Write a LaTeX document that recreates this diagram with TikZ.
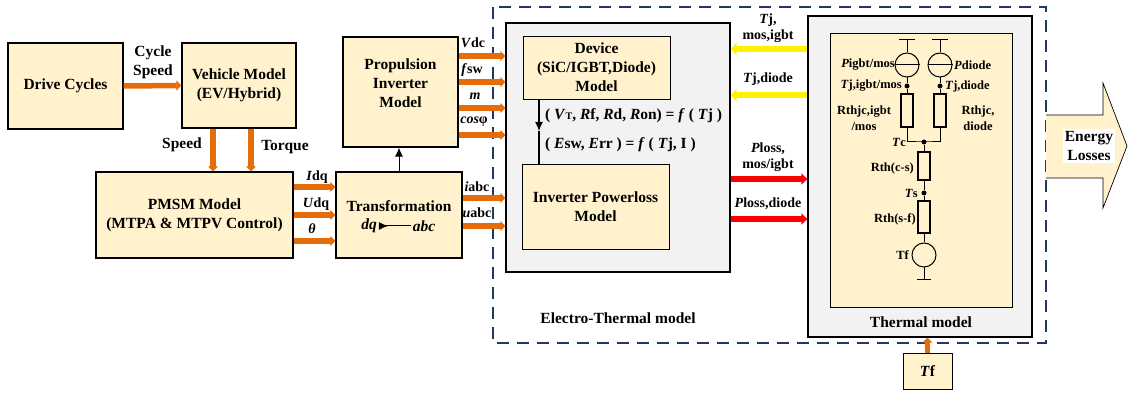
\documentclass[tikz,border=0pt]{standalone}
\usepackage{fontspec}
\setmainfont{Liberation Serif}
\usetikzlibrary{arrows.meta}
\definecolor{boxfill}{HTML}{FFF2CC}
\definecolor{grayfill}{HTML}{F2F2F2}
\definecolor{orangeline}{HTML}{E46C0A}
\definecolor{navyline}{HTML}{1F3864}
\tikzset{
  every node/.style={font=\fontsize{15.5}{19}\selectfont\bfseries, inner sep=0pt, align=center},
  block/.style={draw, line width=1.3pt, fill=boxfill},
  subblock/.style={draw, line width=0.8pt, fill=boxfill},
  lbl/.style={font=\fontsize{14}{16}\selectfont\bfseries},
  clbl/.style={font=\fontsize{12.5}{16}\selectfont\bfseries},
  orarrow/.style={line width=5.5pt, draw=orangeline, -{Triangle[length=5pt,width=10pt]}},
  yelarrow/.style={line width=6pt, draw=yellow, -{Triangle[length=6pt,width=12pt]}},
  redarrow/.style={line width=6pt, draw=red, -{Triangle[length=6pt,width=11pt]}},
  src/.style={draw, circle, line width=1pt, minimum size=24pt},
  res/.style={draw, rectangle, line width=1.8pt, minimum width=12pt, minimum height=33pt},
  dot/.style={circle, fill, minimum size=5pt}
}
\begin{document}
\begin{tikzpicture}[x=1pt, y=-1pt]
      \useasboundingbox (0,0) rectangle (1128,395);
      \draw[navyline, line width=1.6pt, dash pattern=on 12pt off 8pt] (493,7) rectangle (1046,343); % electro-thermal frame
      %
      \node[block, minimum width=115pt, minimum height=86pt] (drive) at (65.5,86) {Drive Cycles};
      \node[block, minimum width=114pt, minimum height=85pt] (vehicle) at (239,85.5) {Vehicle Model\\(EV/Hybrid)};
      \node[block, minimum width=197pt, minimum height=86pt] (pmsm) at (194.5,215) {PMSM Model\\(MTPA \& MTPV Control)};
      \node[block, minimum width=126pt, minimum height=86pt] (trans) at (399,215) {};
      \node[block, minimum width=115pt, minimum height=110pt] (prop) at (400.5,92) {};
      \node (proptxt) at (400.5,83) {Propulsion\\Inverter\\Model};
      \node (transtxt) at (399,206) {Transformation};
      \node[inner sep=2pt] (dq) at (369,226) {\textit{dq}};
      \node[inner sep=2pt] (abc) at (424,226) {\textit{abc}};
      \draw[line width=1pt, {Latex[reversed,length=9pt,width=8pt]}-] (dq.east) -- (abc.west);
      %
      \node[draw, line width=1.3pt, fill=grayfill, minimum width=224pt, minimum height=249pt] (et) at (618,147.5) {}; % electrical side
      \node[subblock, minimum width=147pt, minimum height=63pt] (device) at (596.5,67.5) {Device\\(SiC/IGBT,Diode)\\Model};
      \node[subblock, minimum width=147pt, minimum height=85pt] (loss) at (595.5,206.5) {Inverter Powerloss\\Model};
      \node[anchor=west] (frel) at (545,116) {( \textit{V}{\fontsize{10}{10}\selectfont T}, \textit{R}f, \textit{R}d, \textit{R}on) = \textit{f} ( \textit{T}j )};
      \node[anchor=west] (erel) at (545,145) {( \textit{E}sw, \textit{E}rr ) = \textit{f} ( \textit{T}j, I )};
      \coordinate (fmid) at (539,131);
      \draw[line width=1.2pt, -{Latex[length=9pt,width=8pt]}] (device.south -| fmid) -- (fmid);
      \draw[line width=1.2pt] (fmid) -- (loss.north -| fmid);
      \node (etname) at (618,318) {Electro-Thermal model};
      %
      \node[draw, line width=1.3pt, fill=grayfill, minimum width=224pt, minimum height=321pt] (thermal) at (920,176.5) {}; % thermal side
      \node[subblock, minimum width=182pt, minimum height=274pt] (tinner) at (921,170) {};
      \node (thname) at (921,322) {Thermal model};
      \node[block, line width=0.9pt, minimum width=49pt, minimum height=36pt] (tfbox) at (927.5,371) {\textit{T}f};
      %
      \draw[line width=0.7pt, fill=boxfill] (1046,115) -- (1103,115) -- (1103,83) -- (1127,146) -- (1103,208) -- (1103,178) -- (1046,178);
      \node[fill=white, inner sep=2pt] (eloss) at (1089,146) {Energy\\Losses};
      %
      \draw[orarrow] (drive.east) -- (vehicle.west); % mechanical side
      \node (cyclbl) at (153,62) {Cycle\\Speed};
      \coordinate (spd) at (213,150);
      \coordinate (trq) at (251,150);
      \draw[orarrow] (vehicle.south -| spd) -- (pmsm.north -| spd);
      \draw[orarrow] (vehicle.south -| trq) -- (pmsm.north -| trq);
      \node (spdlbl) at (182,145) {Speed};
      \node (trqlbl) at (285,147) {Torque};
      %
      \draw[orarrow] (pmsm.east |- 0,187) -- (trans.west |- 0,187); % pmsm outputs
      \draw[orarrow] (pmsm.east |- 0,215) -- (trans.west |- 0,215);
      \draw[orarrow] (pmsm.east |- 0,241) -- (trans.west |- 0,241);
      \node[lbl] (idqlbl) at (317,177) {\textit{I}dq};
      \node[lbl] (udqlbl) at (316,204) {\textit{U}dq};
      \node[lbl] (thlbl) at (312,229) {\textit{θ}};
      \draw[line width=0.8pt, -{Latex[length=9pt,width=8pt]}] (trans.north) -- (trans.north |- prop.south);
      %
      \draw[orarrow] (prop.east |- 0,56) -- (et.west |- 0,56); % inverter parameters
      \draw[orarrow] (prop.east |- 0,82) -- (et.west |- 0,82);
      \draw[orarrow] (prop.east |- 0,108) -- (et.west |- 0,108);
      \draw[orarrow] (prop.east |- 0,135) -- (et.west |- 0,135);
      \node[lbl] (vdclbl) at (473,43) {\textit{V}dc};
      \node[lbl] (fswlbl) at (472,70) {\textit{f}sw};
      \node[lbl] (mlbl) at (475,96) {\textit{m}};
      \node[lbl] (coslbl) at (474,122) {\textit{cos}φ};
      \draw[orarrow] (trans.east |- 0,198) -- (et.west |- 0,198);
      \draw[orarrow] (trans.east |- 0,226) -- (et.west |- 0,226);
      \node[lbl] (iabclbl) at (477,187) {\textit{i}abc};
      \node[lbl] (uabclbl) at (477,213) {\textit{u}abc};
      %
      \draw[yelarrow] (thermal.west |- 0,49) -- (et.east |- 0,49); % junction temperatures
      \draw[yelarrow] (thermal.west |- 0,95) -- (et.east |- 0,95);
      \node[lbl] (tjalbl) at (768,28) {\textit{T}j,\\mos,igbt};
      \node[lbl] (tjblbl) at (768,79) {\textit{T}j,diode};
      \draw[redarrow] (et.east |- 0,179) -- (thermal.west |- 0,179); % losses
      \draw[redarrow] (et.east |- 0,219) -- (thermal.west |- 0,219);
      \node[lbl] (plalbl) at (768,157) {\textit{P}loss,\\mos/igbt};
      \node[lbl] (plblbl) at (768,204) {\textit{P}loss,diode};
      \draw[orarrow] (tfbox.north) -- (tfbox.north |- thermal.south);
      %
      \node[src] (srcA) at (907,65) {}; % foster network
      \node[src] (srcB) at (940,65) {};
      \draw[line width=1pt] (srcA.west) -- (srcA.east);
      \draw[line width=1pt] (srcB.west) -- (srcB.east);
      \draw[line width=1pt] (srcA.north) -- ++(0,-13) coordinate (gA);
      \draw[line width=1pt] (srcB.north) -- ++(0,-13) coordinate (gB);
      \draw[line width=1.4pt] ([xshift=-8pt]gA) -- ([xshift=8pt]gA);
      \draw[line width=1.4pt] ([xshift=-8pt]gB) -- ([xshift=8pt]gB);
      \node[dot] (jA) at (907,86) {};
      \node[dot] (jB) at (940,86) {};
      \node[res] (rA) at (907,110.5) {};
      \node[res] (rB) at (940,110.5) {};
      \node[dot] (tc) at (924,142) {};
      \node[res, minimum height=28pt] (rCS) at (924,166) {};
      \node[dot] (ts) at (924,193) {};
      \node[res, minimum height=32pt] (rSF) at (924,217) {};
      \node[src] (tfsrc) at (924,255) {};
      \draw[line width=1pt] (srcA) -- (jA) -- (rA);
      \draw[line width=1pt] (srcB) -- (jB) -- (rB);
      \draw[line width=1pt] (rA.south) |- (tc.center) -| (rB.south);
      \draw[line width=1pt] (tc) -- (rCS) -- (ts) -- (rSF) -- (tfsrc);
      \draw[line width=1pt] (tfsrc.south) -- ++(0,12) coordinate (gF);
      \draw[line width=1.4pt] ([xshift=-7pt]gF) -- ([xshift=7pt]gF);
      %
      \node[clbl, anchor=east] (pAlbl) at (895,65) {\textit{P}igbt/mos};
      \node[clbl, anchor=west] (pBlbl) at (954,65) {\textit{P}diode};
      \node[clbl, anchor=east] (tjAlbl) at (902,86) {\textit{T}j,igbt/mos};
      \node[clbl, anchor=west] (tjBlbl) at (945,86) {\textit{T}j,diode};
      \node[clbl] (rAlbl) at (864,118) {Rthjc,igbt\\/mos};
      \node[clbl] (rBlbl) at (978,118) {Rthjc,\\diode};
      \node[clbl, anchor=east] (tclbl) at (906,142) {\textit{T}c};
      \node[clbl, anchor=east] (rcslbl) at (914,168) {Rth(c-s)};
      \node[clbl, anchor=east] (tslbl) at (918,193) {\textit{T}s};
      \node[clbl, anchor=east] (rsflbl) at (916,219) {Rth(s-f)};
      \node[clbl, anchor=east] (tflbl) at (909,255) {Tf};
    \end{tikzpicture}
\end{document}
